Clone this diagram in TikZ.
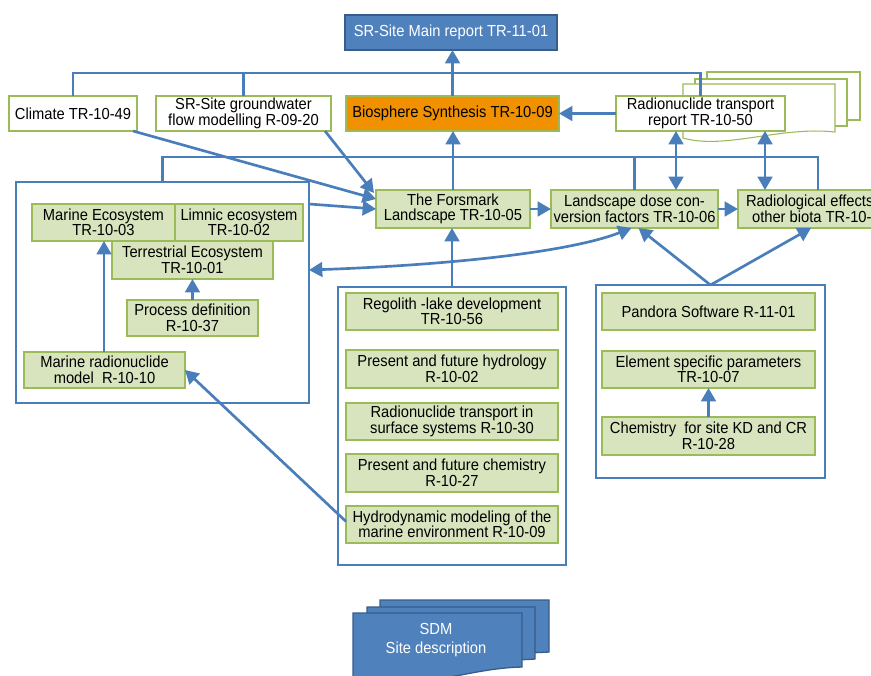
\documentclass[tikz,border=0pt]{standalone}
\usepackage{fontspec}
\setmainfont{Liberation Sans}[FakeStretch=0.92]
\usetikzlibrary{arrows.meta,calc}
\definecolor{gfill}{HTML}{D7E4BD}
\definecolor{gline}{HTML}{9BBB59}
\definecolor{bline}{HTML}{4A7EBB}
\definecolor{mfill}{HTML}{4F81BD}
\definecolor{mline}{HTML}{385D8A}
\definecolor{ofill}{HTML}{F29100}
\tikzset{
  every node/.style={font=\fontsize{12}{11.6}\selectfont, align=center, inner sep=0pt, outer sep=0pt},
  corners/.style n args={4}{at={({(#1+#3)/2},{(#2+#4)/2})}, minimum width={(#3-#1)*0.75pt}, minimum height={(#4-#2)*0.75pt}},
  gbox/.style={draw=gline, fill=gfill, line width=1pt},
  wbox/.style={draw=gline, fill=white, line width=1pt},
  obox/.style={draw=gline, fill=ofill, line width=1pt},
  mbox/.style={draw=mline, fill=mfill, line width=1.5pt, text=white},
  grp/.style={draw=bline, line width=2pt},
  page/.style={draw=gline, fill=white, line width=0.8pt},
  bpage/.style={draw=mline, fill=mfill, line width=1pt},
  conn/.style={draw=bline, line width=2pt},
  arr/.style={conn, -{Triangle[length=10pt,width=11pt]}},
  darr/.style={conn, {Triangle[length=10pt,width=11pt]}-{Triangle[length=10pt,width=11pt]}},
}
\begin{document}
\begin{tikzpicture}[x=0.75pt,y=-0.75pt]
\useasboundingbox (0,0) rectangle (871,675);
\clip (0,0) rectangle (871,675);
\fill[white] (0,0) rectangle (871,675);

% top row
\node[mbox, corners={345}{15}{557}{50}] (main) {SR-Site Main report TR-11-01};
\node[wbox, corners={9}{96}{137}{131}] (climate) {Climate TR-10-49};
\node[wbox, corners={156}{96}{331}{131}] (gw) {SR-Site groundwater\\flow modelling R-09-20};
\node[obox, corners={346}{96}{559}{131}] (bio) {Biosphere Synthesis TR-10-09};

% report stack
\path[page] (707,72) rectangle (860,120);
\path[page] (695,79) rectangle (847,126);
\path[page] (683,84) -- (835,84) -- (835,132) .. controls (780,126) and (725,150) .. (683,138) -- cycle;
\node[wbox, corners={616}{96}{785}{131}] (rnt) {Radionuclide transport\\report TR-10-50};

% second row
\node[gbox, corners={376}{190}{530}{228}] (forsmark) {The Forsmark\\Landscape TR-10-05};
\node[gbox, corners={551}{190}{718}{228}] (ldcf) {Landscape dose con-\\version factors TR-10-06};
\node[gbox, corners={738}{190}{902}{228}] (radeff) {Radiological effects on\\other biota TR-10-08};

% left group
\node[grp, corners={16}{182}{309}{403}] (lgroup) {};
\node[gbox, corners={32}{204}{175}{241}] (marineeco) {Marine Ecosystem\\TR-10-03};
\node[gbox, corners={175}{204}{303}{241}] (limnic) {Limnic ecosystem\\TR-10-02};
\node[gbox, corners={112}{241}{273}{279}] (terr) {Terrestrial Ecosystem\\TR-10-01};
\node[gbox, corners={127}{300}{258}{336}] (process) {Process definition\\R-10-37};
\node[gbox, corners={24}{352}{185}{388}] (mrm) {Marine radionuclide\\model\ \ R-10-10};

% middle group
\node[grp, corners={338}{287}{566}{565}] (mgroup) {};
\node[gbox, corners={346}{293}{558}{330}] (regolith) {Regolith -lake development\\TR-10-56};
\node[gbox, corners={346}{350}{558}{388}] (hydrol) {Present and future hydrology\\R-10-02};
\node[gbox, corners={346}{403}{558}{440}] (rnsurf) {Radionuclide transport in\\surface systems R-10-30};
\node[gbox, corners={346}{454}{558}{492}] (chem) {Present and future chemistry\\R-10-27};
\node[gbox, corners={346}{506}{558}{543}] (hydro) {Hydrodynamic modeling of the\\marine environment R-10-09};

% right group
\node[grp, corners={596}{285}{825}{478}] (rgroup) {};
\node[gbox, corners={602}{293}{815}{330}] (pandora) {Pandora Software R-11-01};
\node[gbox, corners={602}{351}{815}{388}] (element) {Element specific parameters\\TR-10-07};
\node[gbox, corners={602}{417}{815}{455}] (chemsite) {Chemistry\ \ for site KD and CR\\R-10-28};

% SDM stack
\path[bpage] (380,600) -- (549,600) -- (549,652) .. controls (500,655) and (450,650) .. (380,662) -- cycle;
\path[bpage] (367,607) -- (535,607) -- (535,659) .. controls (490,662) and (440,658) .. (367,670) -- cycle;
\path[bpage] (353,613) -- (522,613) -- (522,667) .. controls (470,668) and (420,690) .. (353,686) -- cycle;
\node[text=white, font=\fontsize{12}{14.2}\selectfont] (sdm) at (436,640) {SDM\\Site description};

% guide coordinates
\coordinate (busA) at (0,73);
\coordinate (busB) at (0,157);
\coordinate (x676) at (676,0);
\coordinate (x765) at (765,0);
\coordinate (x818) at (818,0);
\coordinate (x104) at (104,0);

% connectors
\draw[conn] (climate.north) -- (climate.north |- busA) -- (rnt.north |- busA) -- (rnt.north);
\draw[conn] (gw.north) -- (gw.north |- busA);
\draw[arr] (bio.north) -- (bio.north |- main.south);
\draw[arr] (rnt.west) -- (bio.east);
\draw[conn] (lgroup.north) -- (lgroup.north |- busB) -- (x818 |- busB) -- (x818 |- radeff.north);
\draw[conn] (ldcf.north) -- (ldcf.north |- busB);
\draw[arr] (forsmark.north) -- (forsmark.north |- bio.south);
\draw[darr] (x676 |- rnt.south) -- (x676 |- ldcf.north);
\draw[darr] (x765 |- rnt.south) -- (x765 |- radeff.north);
\draw[arr] (forsmark.east) -- (ldcf.west);
\draw[arr] (ldcf.east) -- (radeff.west);
\draw[arr] ($(climate.south east)+(-4,0)$) -- ($(forsmark.north west)+(0,9)$);
\draw[arr] ($(gw.south east)+(-6,0)$) -- ($(forsmark.north west)+(-2,3)$);
\draw[arr] ($(lgroup.north east)+(0,22)$) -- (forsmark.west);
\draw[darr] ($(lgroup.north east)+(0,88)$) .. controls (450,265) and (570,252) .. ($(ldcf.south)+(-3,0)$);
\draw[arr] (mgroup.north) -- (mgroup.north |- forsmark.south);
\draw[arr] (rgroup.north) -- ($(ldcf.south)+(4,0)$);
\draw[arr] (rgroup.north) -- ($(radeff.south)+(-9,0)$);
\draw[arr] (chemsite.north) -- (element.south);
\draw[arr] ($(hydro.west)+(0,-3)$) -- (mrm.east);
\draw[arr] (x104 |- mrm.north) -- (x104 |- marineeco.south);
\draw[arr] (process.north) -- (process.north |- terr.south);
\end{tikzpicture}
\end{document}
